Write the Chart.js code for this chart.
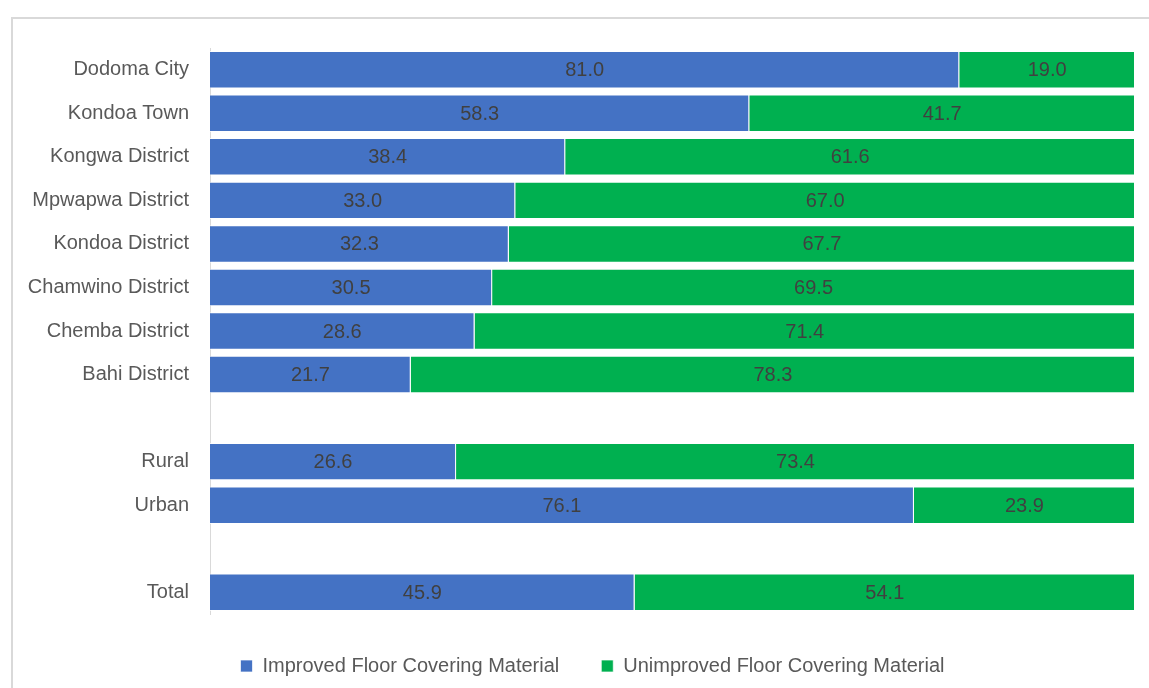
<!DOCTYPE html>
<html>
<head>
<meta charset="utf-8">
<script src="https://cdn.jsdelivr.net/npm/chart.js@4/dist/chart.umd.min.js"></script>
<style>
html,body{margin:0;padding:0;background:#fff;overflow:hidden;}
#wrap{position:absolute;left:0;top:0;width:1149px;height:688px;overflow:hidden;}
#frame{position:absolute;left:11px;top:17px;width:1150px;height:700px;border:2px solid #d9d9d9;box-sizing:border-box;}
canvas{position:absolute;left:0;top:0;}
</style>
</head>
<body>
<div id="wrap"><div id="frame"></div><canvas id="c" width="1149" height="688"></canvas></div>
<script>
const categories = ["Dodoma City","Kondoa Town","Kongwa District","Mpwapwa District","Kondoa District","Chamwino District","Chemba District","Bahi District","","Rural","Urban","","Total"];
const improved = [81.0,58.3,38.4,33.0,32.3,30.5,28.6,21.7,null,26.6,76.1,null,45.9];
const unimproved = [19.0,41.7,61.6,67.0,67.7,69.5,71.4,78.3,null,73.4,23.9,null,54.1];
const seriesNames = ["Improved Floor Covering Material","Unimproved Floor Covering Material"];

const FONT = "'Liberation Sans Narrow','Arial Narrow','Liberation Sans',Arial,sans-serif";

const labelPlugin = {
  id: 'segLabels',
  afterDatasetsDraw(chart) {
    const ctx = chart.ctx;
    ctx.save();
    ctx.font = "20px " + FONT;
    ctx.fillStyle = '#404040';
    ctx.textAlign = 'center';
    ctx.textBaseline = 'middle';
    chart.data.datasets.forEach((ds, i) => {
      const meta = chart.getDatasetMeta(i);
      meta.data.forEach((bar, j) => {
        const v = ds.data[j];
        if (v === null || v === undefined) return;
        const p = bar.getProps(['x','y','base'], true);
        ctx.fillText(v.toFixed(1), (p.x + p.base) / 2, p.y + 1);
      });
    });
    ctx.restore();
  }
};

const legendShift = {
  id: 'legendShift',
  afterLayout(chart) {
    const lg = chart.legend;
    if (lg) { lg.left += 25; lg.right += 25; }
  }
};

new Chart(document.getElementById('c'), {
  type: 'bar',
  data: {
    labels: categories,
    datasets: [
      {label: seriesNames[0], data: improved, backgroundColor: '#4472C4', borderColor: 'rgba(255,255,255,0.7)', borderWidth: 1, barPercentage: 0.86, categoryPercentage: 1},
      {label: seriesNames[1], data: unimproved, backgroundColor: '#00B050', borderColor: 'rgba(255,255,255,0.7)', borderWidth: 1, barPercentage: 0.86, categoryPercentage: 1}
    ]
  },
  options: {
    indexAxis: 'y',
    responsive: false,
    animation: false,
    layout: {padding: {left: 0, right: 14, top: 48, bottom: 2}},
    scales: {
      x: {stacked: true, min: 0, max: 100, display: false},
      y: {
        stacked: true,
        grid: {display: false, drawTicks: false},
        border: {display: true, color: '#d9d9d9', width: 1},
        ticks: {color: '#595959', font: {family: FONT, size: 20}, padding: 21, autoSkip: false},
        afterFit(scale) { scale.width = 210; }
      }
    },
    plugins: {
      legend: {
        position: 'bottom',
        labels: {color: '#595959', font: {family: FONT, size: 20}, boxWidth: 12, boxHeight: 12, padding: 42}
      },
      tooltip: {enabled: false}
    }
  },
  plugins: [labelPlugin, legendShift]
});
</script>
</body>
</html>
